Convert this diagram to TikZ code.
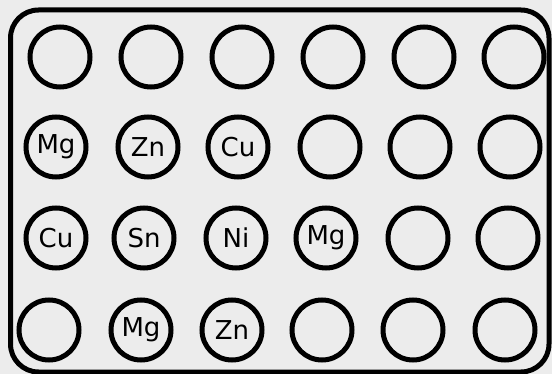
\documentclass[tikz,border=0pt]{standalone}
\usepackage{fontspec}
\setmainfont{DejaVu Sans}
\definecolor{paper}{HTML}{ECECEC}
\begin{document}
\begin{tikzpicture}[x=1pt,y=-1pt,
  well/.style={circle,draw=black,line width=5pt,minimum size=60pt,inner sep=0pt,
    font=\fontsize{26}{26}\selectfont},
  tray/.style={draw=black,line width=5pt,rounded corners=28pt}]
\fill[paper] (0,0) rectangle (552,374);
\useasboundingbox (0,0) rectangle (552,374);
\draw[tray] (10.5,10) rectangle (549,372);
% row 1
\node[well] (w11) at (60,57) {};
\node[well] (w12) at (151,57) {};
\node[well] (w13) at (242,57) {};
\node[well] (w14) at (333,57) {};
\node[well] (w15) at (424,57) {};
\node[well] (w16) at (514,57) {};
% row 2
\node[well] (w21) at (56,147) {Mg};
\node[well] (w22) at (148,147) {Zn};
\node[well] (w23) at (238,147) {Cu};
\node[well] (w24) at (330,147) {};
\node[well] (w25) at (420,147) {};
\node[well] (w26) at (510,147) {};
% row 3
\node[well] (w31) at (56,238) {Cu};
\node[well] (w32) at (144,238) {Sn};
\node[well] (w33) at (236,238) {Ni};
\node[well] (w34) at (326,238) {Mg};
\node[well] (w35) at (418,238) {};
\node[well] (w36) at (508,238) {};
% row 4
\node[well] (w41) at (49,330) {};
\node[well] (w42) at (141,330) {Mg};
\node[well] (w43) at (232,330) {Zn};
\node[well] (w44) at (322,330) {};
\node[well] (w45) at (413,330) {};
\node[well] (w46) at (505,330) {};
\end{tikzpicture}
\end{document}
